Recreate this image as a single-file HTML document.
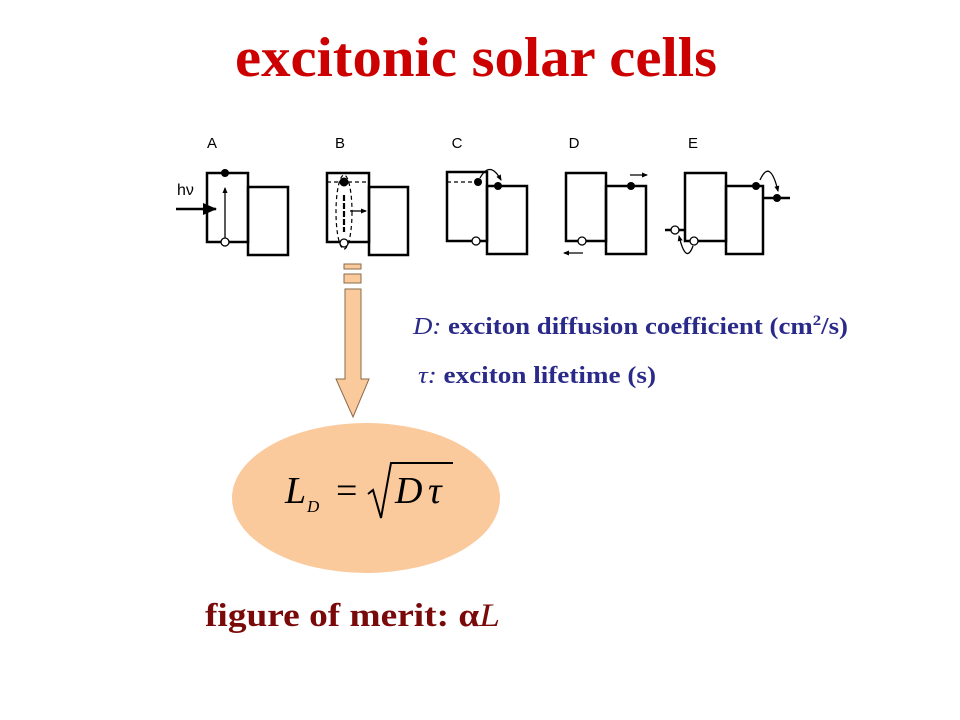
<!DOCTYPE html>
<html><head><meta charset="utf-8"><style>
body{margin:0;background:#fff;}
</style></head><body>
<svg width="960" height="720" xmlns="http://www.w3.org/2000/svg" style="display:block">
<defs>
<marker id="ahs" markerWidth="6" markerHeight="6" refX="5" refY="3" orient="auto" markerUnits="userSpaceOnUse"><path d="M0,0.5 L6,3 L0,5.5 Z" fill="#000"/></marker>
<marker id="ahb" markerWidth="14" markerHeight="12" refX="13" refY="6" orient="auto" markerUnits="userSpaceOnUse"><path d="M0,0 L14,6 L0,12 Z" fill="#000"/></marker>
</defs>
<text x="235" y="76" textLength="482" lengthAdjust="spacingAndGlyphs" font-family="Liberation Serif, serif" font-weight="bold" font-size="56" fill="#cc0000">excitonic solar cells</text>
<g font-family="Liberation Sans, sans-serif" font-size="15" fill="#000">
<text x="212" y="148" text-anchor="middle">A</text>
<text x="340" y="148" text-anchor="middle">B</text>
<text x="457" y="148" text-anchor="middle">C</text>
<text x="574" y="148" text-anchor="middle">D</text>
<text x="693" y="148" text-anchor="middle">E</text>
<text x="177" y="195" font-size="16">hν</text>
</g>
<g fill="none" stroke="#000" stroke-width="2.5">
<rect x="207" y="173" width="41" height="69"/><rect x="248" y="187" width="40" height="68"/>
<rect x="327" y="173" width="42" height="69"/><rect x="369" y="187" width="39" height="68"/>
<rect x="447" y="172" width="40" height="69"/><rect x="487" y="186" width="40" height="68"/>
<rect x="566" y="173" width="40" height="68"/><rect x="606" y="186" width="40" height="68"/>
<rect x="685" y="173" width="41" height="68"/><rect x="726" y="186" width="37" height="68"/>
<line x1="763" y1="198" x2="790" y2="198"/><line x1="665" y1="230" x2="685" y2="230"/>
</g>
<line x1="176" y1="209" x2="216" y2="209" stroke="#000" stroke-width="2.5" marker-end="url(#ahb)"/>
<line x1="225" y1="238" x2="225" y2="188" stroke="#000" stroke-width="1.3" marker-end="url(#ahs)"/>
<circle cx="225" cy="173" r="4" fill="#000"/><circle cx="225" cy="242" r="4" fill="#fff" stroke="#000" stroke-width="1.3"/>
<line x1="327" y1="182" x2="369" y2="182" stroke="#000" stroke-width="1.3" stroke-dasharray="4,3"/>
<ellipse cx="344" cy="212" rx="8" ry="37" fill="none" stroke="#000" stroke-width="1.2" stroke-dasharray="4,3"/>
<line x1="344" y1="195" x2="344" y2="232" stroke="#000" stroke-width="2.2" stroke-dasharray="6,2"/>
<line x1="350" y1="211" x2="366" y2="211" stroke="#000" stroke-width="1.3" marker-end="url(#ahs)"/>
<circle cx="344" cy="182" r="4.5" fill="#000"/><circle cx="344" cy="243" r="4" fill="#fff" stroke="#000" stroke-width="1.3"/>
<line x1="447" y1="182" x2="478" y2="182" stroke="#000" stroke-width="1.3" stroke-dasharray="4,3"/>
<path d="M480,178 Q490,160 501,180" fill="none" stroke="#000" stroke-width="1.3" marker-end="url(#ahs)"/>
<circle cx="478" cy="182" r="4" fill="#000"/><circle cx="498" cy="186" r="4" fill="#000"/>
<circle cx="476" cy="241" r="4" fill="#fff" stroke="#000" stroke-width="1.3"/>
<circle cx="631" cy="186" r="4" fill="#000"/>
<line x1="630" y1="175" x2="647" y2="175" stroke="#000" stroke-width="1.3" marker-end="url(#ahs)"/>
<circle cx="582" cy="241" r="4" fill="#fff" stroke="#000" stroke-width="1.3"/>
<line x1="583" y1="253" x2="564" y2="253" stroke="#000" stroke-width="1.3" marker-end="url(#ahs)"/>
<circle cx="756" cy="186" r="4" fill="#000"/><circle cx="777" cy="198" r="4" fill="#000"/>
<path d="M760,180 Q770,158 778,191" fill="none" stroke="#000" stroke-width="1.3" marker-end="url(#ahs)"/>
<circle cx="675" cy="230" r="4" fill="#fff" stroke="#000" stroke-width="1.3"/>
<circle cx="694" cy="241" r="4" fill="#fff" stroke="#000" stroke-width="1.3"/>
<path d="M693,246 Q686,265 679,236" fill="none" stroke="#000" stroke-width="1.3" marker-end="url(#ahs)"/>
<g fill="#fac99c" stroke="#8a6a4a" stroke-width="1">
<rect x="344" y="264" width="17" height="5"/>
<rect x="344" y="274" width="17" height="9"/>
<path d="M345,289 L361,289 L361,379 L369,379 L353,417 L336,379 L345,379 Z"/>
</g>
<ellipse cx="366" cy="498" rx="134" ry="75" fill="#fac99c"/>
<g font-family="Liberation Serif, serif" font-style="italic" font-size="38" fill="#000">
<text x="285" y="503">L</text>
<text x="307" y="512" font-size="17">D</text>
<text x="336" y="503" font-style="normal">=</text>
<path d="M368,494 L373,490 L381,518 L391,463 L453,463" fill="none" stroke="#000" stroke-width="2"/>
<text x="395" y="503">D</text><text x="428" y="503">τ</text>
</g>
<g font-family="Liberation Serif, serif" font-size="24" fill="#2a2a8a" font-weight="bold">
<text x="413" y="334" textLength="435" lengthAdjust="spacingAndGlyphs"><tspan font-style="italic" font-weight="normal">D:</tspan> exciton diffusion coefficient (cm<tspan font-size="15" dy="-9">2</tspan><tspan dy="9">/s)</tspan></text>
<text x="418" y="383" textLength="238" lengthAdjust="spacingAndGlyphs"><tspan font-style="italic" font-weight="normal">τ:</tspan>  exciton lifetime (s)</text>
</g>
<text x="205" y="626" textLength="295" lengthAdjust="spacingAndGlyphs" font-family="Liberation Serif, serif" font-weight="bold" font-size="33" fill="#7a0a0a">figure of merit:  α<tspan font-style="italic" font-weight="normal">L</tspan></text>
</svg>
</body></html>
